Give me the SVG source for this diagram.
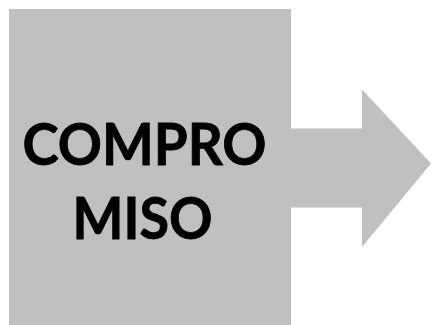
<svg xmlns="http://www.w3.org/2000/svg" width="431" height="325" viewBox="0 0 431 325">
<style>
.shape{fill:#c0c0c0;stroke:none}
.lbl{font-family:Lato,"Open Sans","Liberation Sans",sans-serif;font-weight:bold;font-size:57px;fill:#000;stroke:#000;stroke-width:0.8;text-anchor:middle}
</style>
<rect width="431" height="325" fill="#fff"/>
<g id="connectors">
<polygon id="arrow" class="shape" points="280,128.5 362,128.5 362,89.5 431,163.5 362,247 362,207.5 280,207.5"/>
</g>
<g id="node-compromiso">
<rect class="shape" x="9" y="9" width="282" height="316"/>
<text class="lbl" x="144.5" y="165" textLength="244" lengthAdjust="spacingAndGlyphs">COMPRO</text>
<text class="lbl" x="142.5" y="239" textLength="140" lengthAdjust="spacingAndGlyphs">MISO</text>
</g>
</svg>
